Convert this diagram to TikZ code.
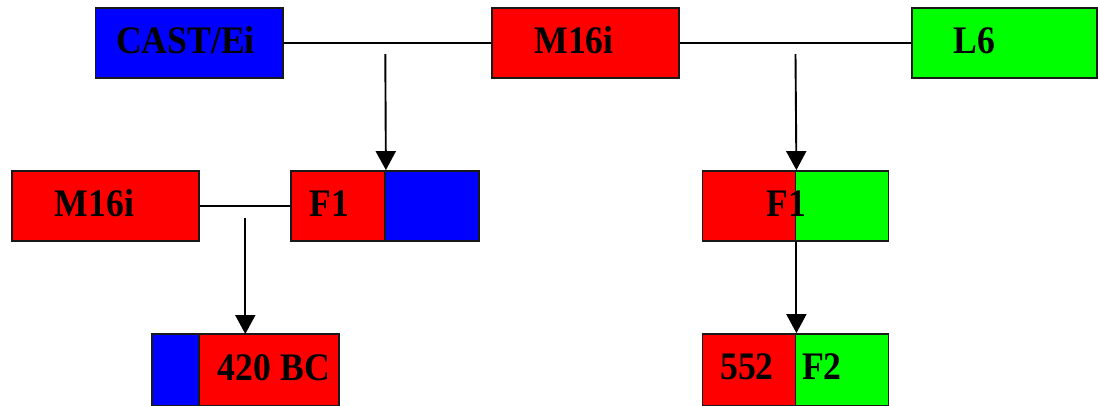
\documentclass[tikz,border=0pt]{standalone}
\usepackage{fontspec}
\setmainfont{Liberation Serif}[FakeStretch=0.915]
\usetikzlibrary{arrows.meta}
\definecolor{pred}{RGB}{255,0,0}
\definecolor{pblue}{RGB}{0,0,255}
\definecolor{pgreen}{RGB}{0,255,0}
\begin{document}
\begin{tikzpicture}[x=1pt,y=-1pt,
  box/.style={draw=black!90, line width=1.8pt, rectangle, inner sep=0pt, minimum height=70pt},
  lbl/.style={anchor=base, inner sep=0pt, font=\bfseries\fontsize{39pt}{40pt}\selectfont},
  link/.style={draw=black, line width=1.9pt},
  arr/.style={link, -{Triangle[width=20pt,length=19pt]}}]
\useasboundingbox (0,0) rectangle (1098,405);

% top row
\node[box, fill=pblue, minimum width=187.5pt] (cast) at (189.25,43) {};
\node[box, fill=pred,  minimum width=187pt]   (mtop) at (585.5,43) {};
\node[box, fill=pgreen,minimum width=185pt]   (l6)   at (1004.5,43) {};

% middle row
\node[box, fill=pred,  minimum width=187pt] (mmid) at (105.5,206) {};
\node[box, fill=pred,  minimum width=94pt]  (f1aL) at (338,206) {};
\node[box, fill=pblue, minimum width=94pt]  (f1aR) at (432,206) {};
\node[box, fill=pred,  minimum width=93pt]  (f1bL) at (749,206) {};
\node[box, fill=pgreen,minimum width=93pt]  (f1bR) at (842,206) {};

% bottom row
\node[box, fill=pblue, minimum width=47pt, minimum height=72pt]  (bcL) at (175.5,370) {};
\node[box, fill=pred,  minimum width=140pt, minimum height=72pt] (bcR) at (269,370) {};
\node[box, fill=pred,  minimum width=93pt, minimum height=72pt]  (f2L) at (749,370) {};
\node[box, fill=pgreen,minimum width=93pt, minimum height=72pt]  (f2R) at (842,370) {};

% labels
\node[lbl] (tcast) at (185.5,53) {CAST/Ei};
\node[lbl] (tmtop) at (574,53) {M16i};
\node[lbl] (tl6)   at (974.5,53) {L6};
\node[lbl] (tmmid) at (94.5,216) {M16i};
\node[lbl] (tf1a)  at (329.5,216) {F1};
\node[lbl] (tbc)   at (274,380) {420 BC};
\node[lbl] (t552)  at (747,379) {552};
\node[lbl] (tf2)   at (822,379) {F2};

% crosses between parents
\draw[link] (cast.east) -- (mtop.west);
\draw[link] (mtop.east) -- (l6.west);
\draw[link] (mmid.east) -- (f1aL.west);

% descent arrows
\coordinate (ja) at (385.3,54);
\coordinate (jb) at (795.5,54);
\coordinate (jc) at (245.3,218);
\draw[arr] (ja) -- (f1aL.north east);
\draw[arr] (jb) -- (f1bL.north east);
\draw[arr] (jc) -- (245.3,334) coordinate (jcend);
\draw[arr] (f1bL.south east) -- (f2L.north east);

% label of the right hybrid sits over the divider
\node[lbl] (tf1b) at (786.5,216) {F1};
\end{tikzpicture}
\end{document}
